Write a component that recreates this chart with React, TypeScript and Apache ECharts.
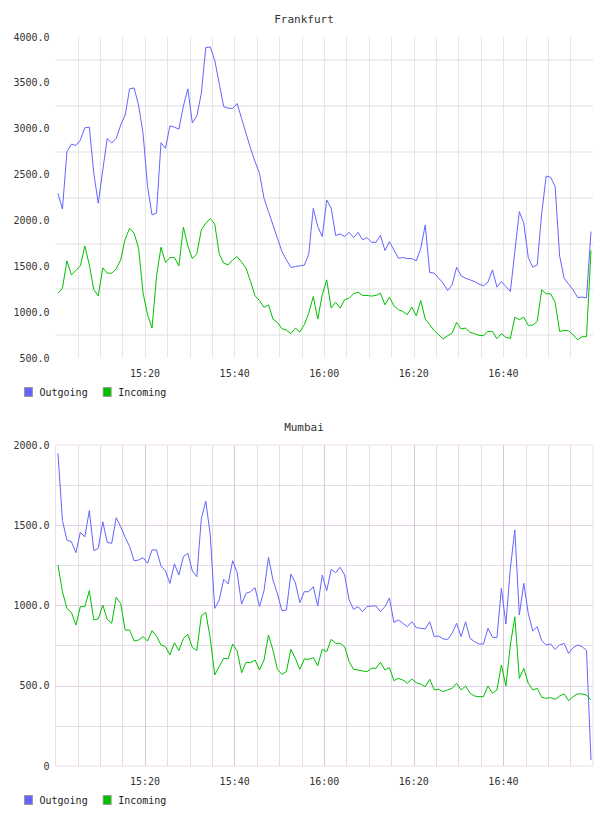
import React, { useEffect, useRef } from 'react';
import * as echarts from 'echarts';

// Samples are taken once a minute; times are minutes after 15:00.
const firstSampleMinute = 0.55;
const tickMinutes = [20, 40, 60, 80, 100];
const tickLabels = ['15:20', '15:40', '16:00', '16:20', '16:40'];
const seriesNames = ['Outgoing', 'Incoming'];
const stationNames = ['Frankfurt', 'Mumbai'];

const frankfurtOutgoing = [
  2295, 2125, 2749, 2832, 2818, 2876, 3010, 3017, 2513, 2187, 2549, 2894, 2843, 2894, 3039, 3148, 3434, 3445, 3257, 2948,
  2368, 2060, 2081, 2847, 2785, 3032, 3017, 2995, 3246, 3434, 3064, 3137, 3383, 3884, 3891, 3746, 3492, 3242, 3224, 3220,
  3275, 3111, 2948, 2785, 2640, 2513, 2241, 2096, 1951, 1806, 1661, 1570, 1487, 1497, 1505, 1512, 1635, 2132, 1933, 1824,
  2223, 2132, 1835, 1853, 1824, 1871, 1813, 1871, 1788, 1813, 1762, 1762, 1838, 1672, 1769, 1679, 1588, 1595, 1584, 1584,
  1559, 1697, 1951, 1432, 1425, 1370, 1316, 1236, 1298, 1490, 1396, 1370, 1352, 1334, 1305, 1287, 1327, 1461, 1273, 1334,
  1280, 1225, 1661, 2096, 1969, 1595, 1490, 1516, 2078, 2484, 2470, 2368, 1613, 1370, 1305, 1244, 1160, 1164, 1156, 1878,
];

const frankfurtIncoming = [
  1207, 1262, 1559, 1407, 1454, 1505, 1722, 1516, 1244, 1178, 1483, 1425, 1425, 1472, 1570, 1795, 1915, 1860, 1697, 1207,
  972, 826, 1389, 1708, 1541, 1595, 1595, 1505, 1925, 1722, 1584, 1635, 1896, 1969, 2020, 1962, 1635, 1534, 1516, 1570,
  1606, 1545, 1479, 1334, 1178, 1127, 1051, 1080, 924, 888, 819, 805, 765, 826, 783, 863, 990, 1171, 924, 1189,
  1352, 1044, 1109, 1044, 1135, 1153, 1200, 1218, 1182, 1182, 1175, 1182, 1207, 1080, 1164, 1069, 1026, 1008, 972, 1055,
  961, 1127, 924, 863, 797, 754, 707, 743, 772, 888, 816, 826, 779, 765, 747, 743, 790, 790, 710, 765,
  725, 714, 946, 917, 946, 855, 859, 899, 1244, 1200, 1200, 1106, 790, 801, 797, 754, 699, 732, 732, 1672,
];

const mumbaiOutgoing = [
  1948, 1529, 1408, 1398, 1329, 1456, 1427, 1591, 1342, 1356, 1522, 1394, 1387, 1547, 1491, 1425, 1367, 1279, 1283, 1298,
  1263, 1346, 1346, 1246, 1215, 1138, 1259, 1190, 1304, 1325, 1215, 1180, 1539, 1651, 1439, 982, 1034, 1163, 1134, 1279,
  1205, 1009, 1076, 1086, 1111, 993, 1092, 1300, 1159, 1072, 968, 972, 1196, 1142, 1018, 1086, 1086, 1117, 997, 1190,
  1092, 1225, 1205, 1238, 1190, 1034, 976, 993, 962, 993, 997, 997, 962, 993, 1047, 895, 910, 889, 868, 899,
  862, 858, 854, 899, 806, 810, 791, 789, 827, 889, 806, 899, 795, 775, 760, 760, 858, 802, 800, 1107,
  885, 1232, 1470, 941, 1138, 951, 841, 868, 781, 754, 760, 727, 754, 764, 702, 737, 754, 744, 719, 37,
];

const mumbaiIncoming = [
  1252, 1086, 982, 957, 878, 993, 993, 1092, 910, 916, 1003, 914, 889, 1051, 1013, 847, 847, 779, 785, 806,
  779, 843, 810, 754, 744, 692, 768, 719, 795, 820, 739, 719, 937, 957, 795, 567, 619, 671, 667, 760,
  717, 581, 646, 644, 660, 598, 660, 816, 723, 602, 571, 588, 727, 671, 602, 667, 665, 675, 625, 727,
  712, 789, 764, 764, 744, 650, 602, 598, 592, 588, 609, 609, 646, 598, 613, 532, 546, 536, 515, 542,
  519, 511, 494, 540, 474, 478, 463, 474, 484, 515, 474, 498, 453, 436, 432, 432, 498, 453, 474, 629,
  498, 754, 930, 546, 609, 515, 474, 484, 428, 422, 426, 415, 436, 449, 407, 432, 449, 449, 442, 411,
];

const outgoingColor = '#6464ff';
const incomingColor = '#00c000';
const mono = '"DejaVu Sans Mono", "Liberation Mono", monospace';

const withTimes = (values: number[]) => values.map((v, i) => [firstSampleMinute + i, v]);

const timeLabel = (v: number) => {
  const i = tickMinutes.findIndex((m) => Math.abs(m - v) < 1e-6);
  return i >= 0 ? tickLabels[i] : '';
};

const labelText = { fontFamily: mono, fontSize: 10, color: '#333' };

function xAxisFor(gridIndex: number, major: string, minor: string) {
  return {
    type: 'value',
    gridIndex,
    min: 0,
    max: 120,
    interval: 20,
    axisLine: { show: false },
    axisTick: { show: false },
    axisLabel: { ...labelText, margin: 10, formatter: timeLabel },
    splitLine: { show: true, showMinLine: false, showMaxLine: false, lineStyle: { color: major, width: 1 } },
    minorTick: { show: false, splitNumber: 4 },
    minorSplitLine: { show: true, lineStyle: { color: minor, width: 1 } },
  };
}

function legendAt(top: number) {
  return {
    data: seriesNames,
    left: 24,
    top,
    padding: 0,
    icon: 'rect',
    itemWidth: 8,
    itemHeight: 9,
    itemGap: 15,
    itemStyle: { borderColor: '#999', borderWidth: 1 },
    textStyle: { fontFamily: mono, fontSize: 10, color: '#222', padding: [0, 0, 0, 2] },
    selectedMode: false,
  };
}

function titleAt(text: string, top: number) {
  return {
    text,
    left: 'center',
    top,
    padding: 0,
    textStyle: { fontFamily: mono, fontSize: 11, fontWeight: 'normal', color: '#333' },
  };
}

function lineSeries(name: string, color: string, axis: number, values: number[]) {
  return {
    name,
    type: 'line',
    xAxisIndex: axis,
    yAxisIndex: axis,
    data: withTimes(values),
    showSymbol: false,
    symbol: 'none',
    silent: true,
    lineStyle: { color, width: 1 },
    itemStyle: { color },
  };
}

export default function App() {
  const ref = useRef<HTMLDivElement>(null);

  useEffect(() => {
    if (!ref.current) return;
    const chart = echarts.init(ref.current, null, { renderer: 'svg' });
    chart.setOption({
      animation: false,
      backgroundColor: '#ffffff',
      title: [titleAt(stationNames[0], 14), titleAt(stationNames[1], 422)],
      legend: [legendAt(387), legendAt(795)],
      grid: [
        { left: 55.5, top: 37, width: 537.5, height: 321, show: false },
        {
          left: 55.5,
          top: 445,
          width: 537.5,
          height: 321,
          show: true,
          borderColor: '#efdcef',
          borderWidth: 1,
          backgroundColor: 'transparent',
        },
      ],
      xAxis: [xAxisFor(0, '#e6e6e6', '#e6e6e6'), xAxisFor(1, '#d9c6d9', '#e3dce3')],
      yAxis: [
        {
          type: 'value',
          gridIndex: 0,
          min: 500,
          max: 4000,
          interval: 500,
          axisLine: { show: false },
          axisTick: { show: false },
          axisLabel: { ...labelText, margin: 6, formatter: (v: number) => v.toFixed(1) },
          splitLine: { show: false },
          minorTick: { show: false, splitNumber: 2 },
          minorSplitLine: { show: true, lineStyle: { color: '#efefef', width: 2 } },
        },
        {
          type: 'value',
          gridIndex: 1,
          min: 0,
          max: 2000,
          interval: 500,
          axisLine: { show: false },
          axisTick: { show: false },
          axisLabel: { ...labelText, margin: 6, formatter: (v: number) => (v === 0 ? '0' : v.toFixed(1)) },
          splitLine: { show: true, showMinLine: false, showMaxLine: false, lineStyle: { color: '#e6d2e6', width: 1 } },
          minorTick: { show: false, splitNumber: 2 },
          minorSplitLine: { show: true, lineStyle: { color: '#e5dfe5', width: 1 } },
        },
      ],
      series: [
        lineSeries(seriesNames[0], outgoingColor, 0, frankfurtOutgoing),
        lineSeries(seriesNames[1], incomingColor, 0, frankfurtIncoming),
        lineSeries(seriesNames[0], outgoingColor, 1, mumbaiOutgoing),
        lineSeries(seriesNames[1], incomingColor, 1, mumbaiIncoming),
      ],
    });
    return () => chart.dispose();
  }, []);

  return (
    <div
      ref={ref}
      style={{ position: 'fixed', left: 0, top: 0, width: 608, height: 816, background: '#fff' }}
    />
  );
}
